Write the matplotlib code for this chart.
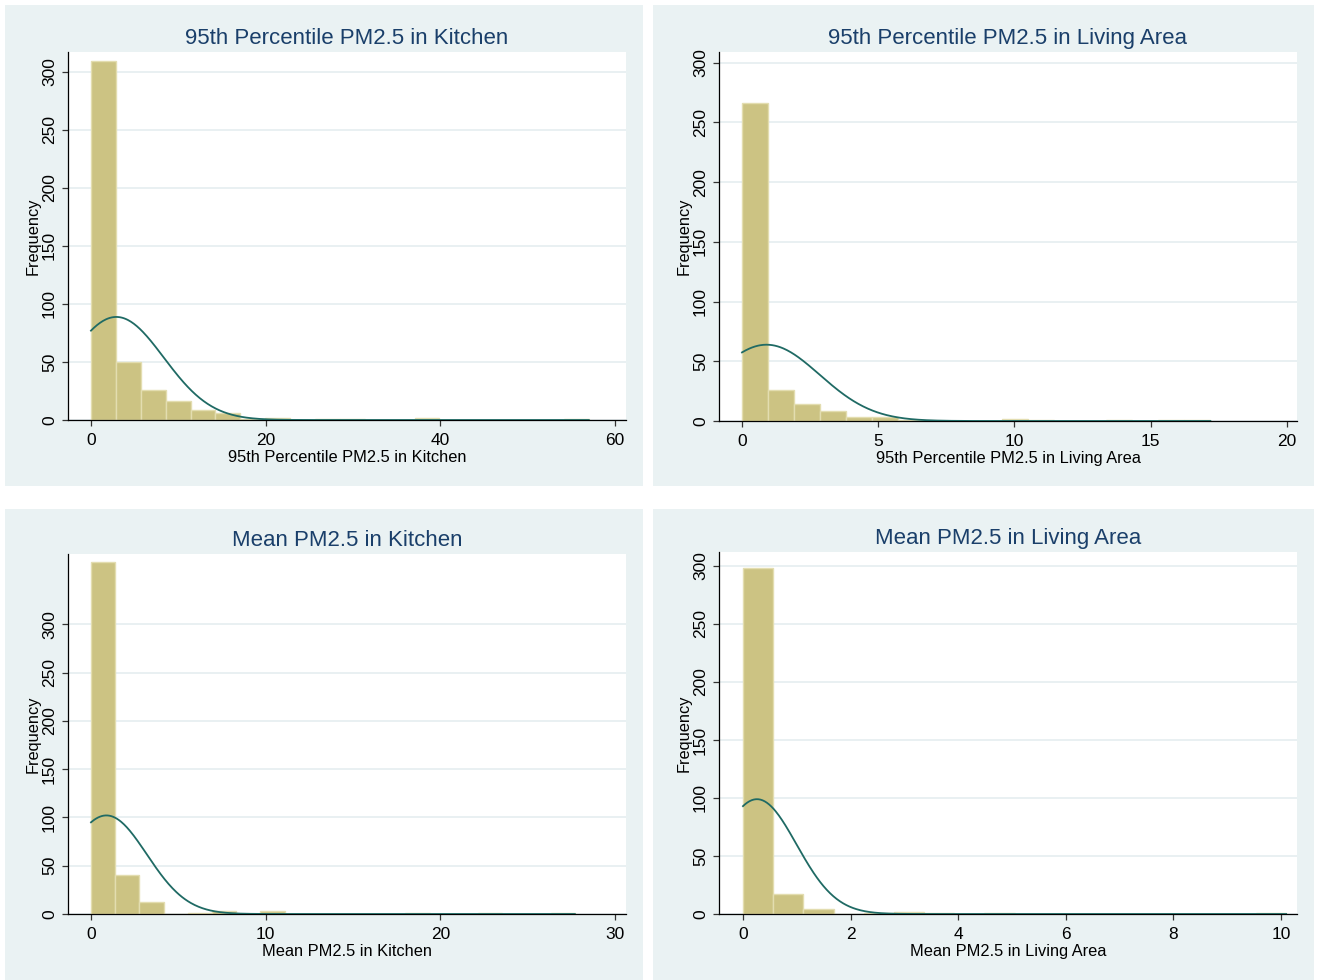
import numpy as np
import matplotlib
matplotlib.use("Agg")
from matplotlib import pyplot as plt
from matplotlib.patches import Rectangle

plt.rcParams['font.family'] = ['Liberation Sans', 'DejaVu Sans']

# data: counts per bin (bins start at 0), bin widths, fitted normal (mean, sd)
titles = ["95th Percentile PM2.5 in Kitchen", "95th Percentile PM2.5 in Living Area",
          "Mean PM2.5 in Kitchen", "Mean PM2.5 in Living Area"]

k95_counts = [309, 50, 26, 16, 9, 6, 1, 2, 0, 1, 1, 0, 0, 2, 0, 0, 0, 0, 0, 1]
k95_width = 2.85
k95_norm = (2.9, 5.43)

l95_counts = [266, 26, 14, 8, 3, 3, 1, 0, 0, 0, 2, 1, 0, 0, 1, 0, 1, 1]
l95_width = 0.955
l95_norm = (0.9, 1.95)

kmean_counts = [365, 40, 12, 0, 1, 3, 0, 3, 0, 0, 0, 0, 0, 1, 0, 0, 1, 0, 0, 1]
kmean_width = 1.385
kmean_norm = (0.88, 2.31)

lmean_counts = [298, 17, 4, 0, 1, 2, 1, 0, 1, 0, 0, 0, 0, 0, 0, 0, 0, 1]
lmean_width = 0.561
lmean_norm = (0.26, 0.735)

xticks_list = [[0, 20, 40, 60], [0, 5, 10, 15, 20], [0, 10, 20, 30], [0, 2, 4, 6, 8, 10]]
yticks = [0, 50, 100, 150, 200, 250, 300]

# layout in pixels (figure is 1318 x 980)
W, H = 1318, 980
panel_px = [(5, 5, 643, 486), (653, 5, 1314, 486), (5, 509, 643, 980), (653, 509, 1314, 980)]
plot_px = [(68, 52, 626, 420), (719, 52, 1297, 421), (68, 554, 626, 914), (719, 552, 1297, 914)]
xlims = [(-2.63, 61.26), (-0.844, 20.37), (-1.317, 30.63), (-0.446, 10.30)]
ylims = [(0, 317), (0, 309), (0, 373), (0, 312)]

bg = "#EAF2F3"
bar_fill = "#CCC383"
bar_edge = "#E3DDB0"
curve_col = "#1F6A64"
title_col = "#1A3F6A"


def rect(box):
    x0, y0, x1, y1 = box
    return [x0 / W, 1 - y1 / H, (x1 - x0) / W, (y1 - y0) / H]


fig = plt.figure(figsize=(13.18, 9.8), dpi=100, facecolor="white")

for box in panel_px:
    r = rect(box)
    fig.add_artist(Rectangle((r[0], r[1]), r[2], r[3], transform=fig.transFigure,
                             facecolor=bg, edgecolor="none", zorder=0))

datasets = [(k95_counts, k95_width, k95_norm), (l95_counts, l95_width, l95_norm),
            (kmean_counts, kmean_width, kmean_norm), (lmean_counts, lmean_width, lmean_norm)]

for i, (counts, w, (mu, sd)) in enumerate(datasets):
    ax = fig.add_axes(rect(plot_px[i]))
    ax.set_facecolor("white")
    counts = np.array(counts)
    edges = np.arange(len(counts) + 1) * w
    ax.bar(edges[:-1], counts, width=w, align="edge", color=bar_fill,
           edgecolor=bar_edge, linewidth=1, zorder=2)

    # normal density overlay scaled to frequency
    n = counts.sum()
    xs = np.linspace(0, edges[-1], 500)
    ys = n * w * np.exp(-0.5 * ((xs - mu) / sd) ** 2) / (sd * np.sqrt(2 * np.pi))
    ax.plot(xs, ys, color=curve_col, lw=1.3, zorder=3)

    ax.set_xlim(*xlims[i])
    ax.set_ylim(*ylims[i])
    ax.set_xticks(xticks_list[i])
    ax.set_yticks(yticks)
    ax.yaxis.grid(True, color="#E3ECEF", lw=1.1)
    ax.set_axisbelow(True)
    for s in ["top", "right"]:
        ax.spines[s].set_visible(False)
    for s in ["left", "bottom"]:
        ax.spines[s].set_color("black")
        ax.spines[s].set_linewidth(0.9)
    ax.tick_params(length=4, width=0.9, color="#333333", labelsize=12.5, pad=4)
    ax.tick_params(axis="x", pad=5.5)
    ax.tick_params(axis="y", labelrotation=90)
    for lab in ax.get_yticklabels():
        lab.set_va("center")

    ax.set_title(titles[i], fontsize=16, color=title_col, pad=6)
    ax.set_xlabel(titles[i], fontsize=11.8, labelpad=1)
    ax.set_ylabel("Frequency", fontsize=11.8, labelpad=1)

plt.savefig("out.png", dpi=100, facecolor="white")
